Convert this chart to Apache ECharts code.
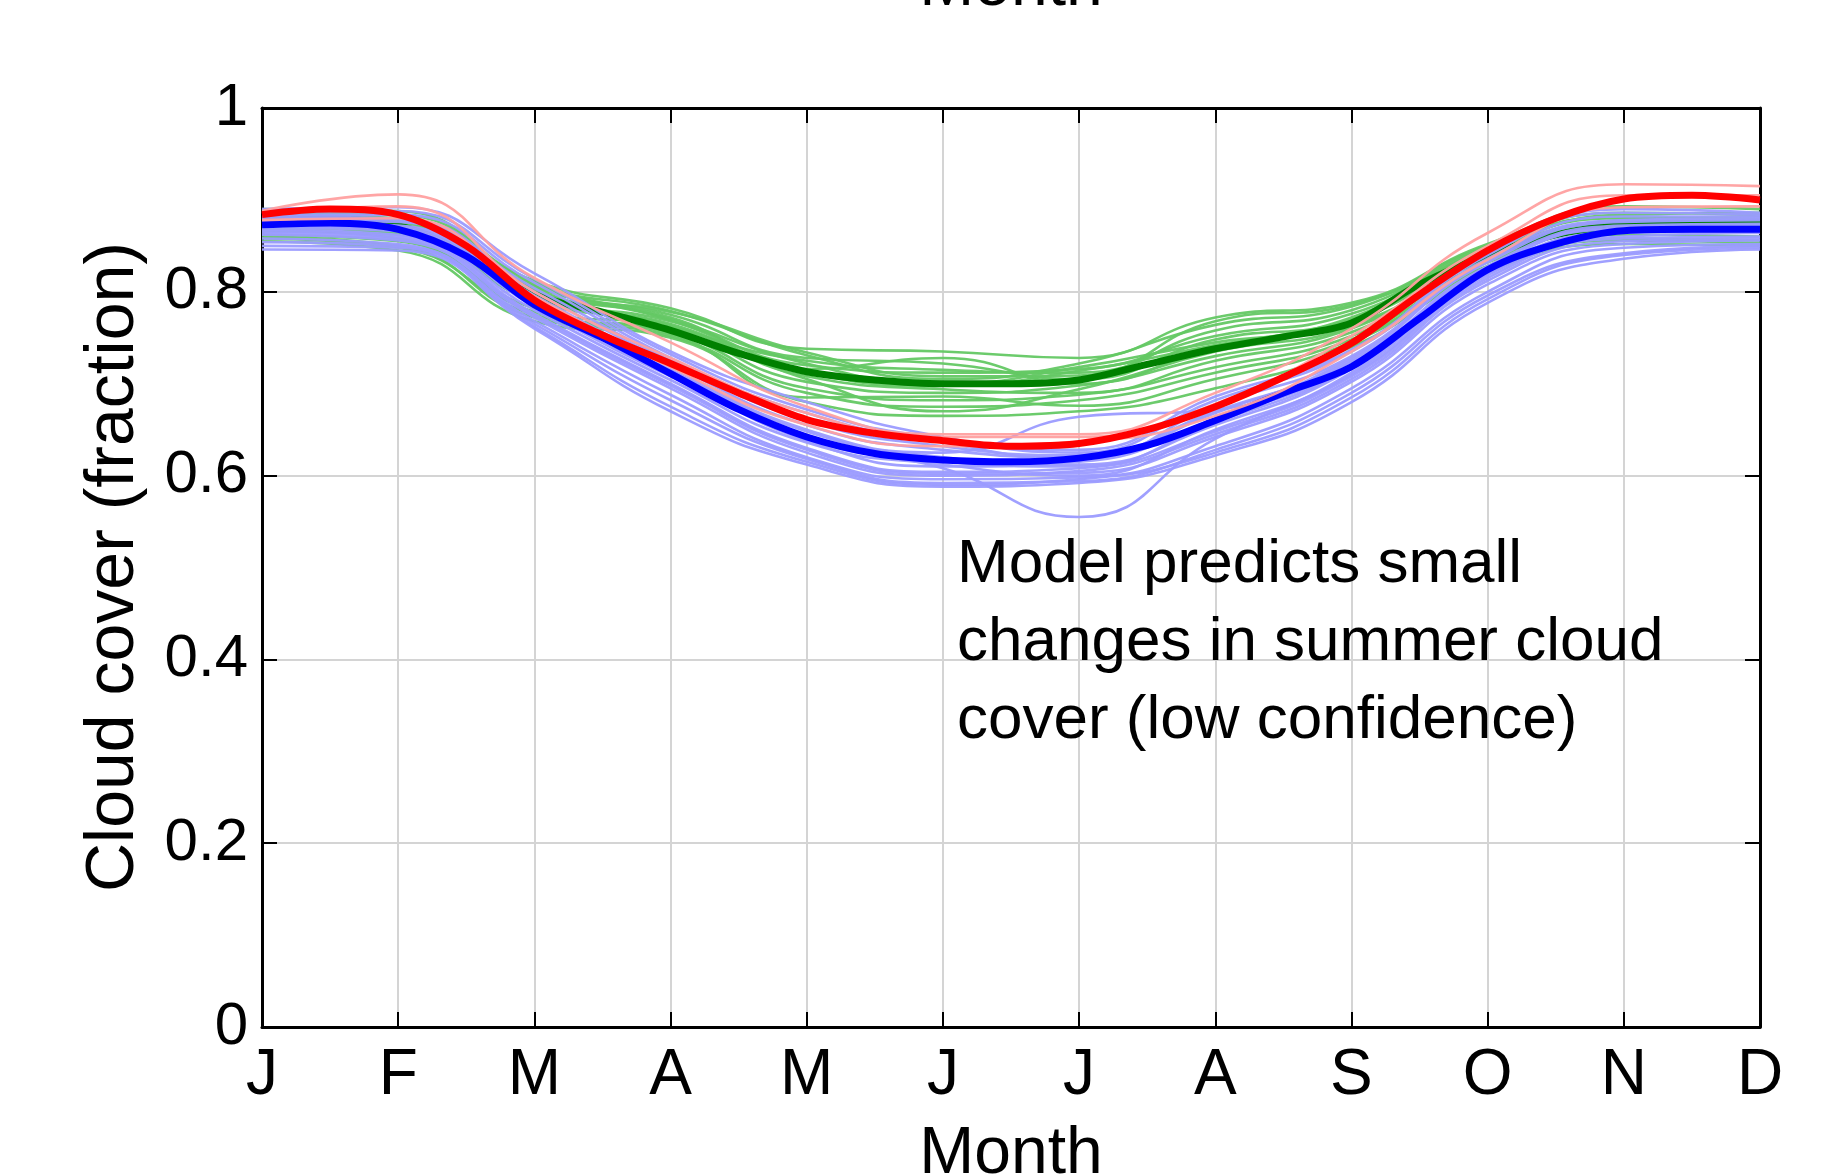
<!DOCTYPE html>
<html>
<head>
<meta charset="utf-8">
<script src="https://cdn.jsdelivr.net/npm/echarts@6/dist/echarts.min.js"></script>
<style>
html,body{margin:0;padding:0;background:#fff;}
#chart{width:1841px;height:1174px;}
</style>
</head>
<body>
<div id="chart"></div>
<script>
// ---- Data ----
const monthLabels = ['J','F','M','A','M','J','J','A','S','O','N','D'];
const monthPos = [0,1,2,3,4,5,6,7,8,9,10,11];
const halfMonthPos = [0,0.5,1,1.5,2,2.5,3,3.5,4,4.5,5,5.5,6,6.5,7,7.5,8,8.5,9,9.5,10,10.5,11];
const yTicks = [0,0.2,0.4,0.6,0.8,1];

// thick (mean) lines, at half-month positions
const greenMean = [0.877,0.879,0.872,0.843,0.797,0.778,0.758,0.733,0.713,0.704,0.700,0.700,0.704,0.721,0.738,0.751,0.766,0.808,0.840,0.862,0.873,0.8745,0.8745];
const blueMean  = [0.873,0.875,0.868,0.839,0.786,0.750,0.711,0.672,0.642,0.624,0.617,0.615,0.619,0.633,0.660,0.690,0.7185,0.771,0.824,0.852,0.8665,0.868,0.868];
const redMean   = [0.884,0.890,0.884,0.850,0.791,0.753,0.722,0.690,0.661,0.646,0.638,0.632,0.635,0.650,0.675,0.707,0.744,0.797,0.845,0.880,0.901,0.905,0.900];

// thin ensemble members, at monthly positions
const greenRuns = [
  [0.890,0.888,0.812,0.782,0.738,0.735,0.728,0.772,0.788,0.852,0.893,0.890],
  [0.872,0.866,0.795,0.768,0.720,0.712,0.716,0.752,0.776,0.846,0.880,0.878],
  [0.860,0.850,0.772,0.752,0.690,0.675,0.682,0.712,0.748,0.826,0.858,0.856],
  [0.880,0.876,0.805,0.775,0.728,0.722,0.705,0.748,0.770,0.842,0.876,0.879],
  [0.868,0.858,0.782,0.760,0.702,0.690,0.698,0.730,0.760,0.835,0.866,0.866],
  [0.884,0.880,0.808,0.779,0.731,0.705,0.722,0.764,0.784,0.850,0.886,0.884],
  [0.855,0.845,0.768,0.750,0.680,0.665,0.670,0.695,0.740,0.822,0.852,0.850],
  [0.876,0.870,0.800,0.772,0.716,0.728,0.700,0.740,0.772,0.844,0.874,0.872],
  [0.866,0.862,0.790,0.765,0.708,0.694,0.690,0.725,0.756,0.832,0.869,0.870],
  [0.878,0.874,0.803,0.762,0.725,0.715,0.712,0.758,0.780,0.848,0.882,0.876],
  [0.862,0.855,0.778,0.756,0.695,0.682,0.688,0.718,0.752,0.828,0.862,0.860],
  [0.886,0.884,0.810,0.770,0.722,0.700,0.718,0.745,0.765,0.838,0.878,0.882],
  [0.870,0.864,0.792,0.763,0.705,0.670,0.694,0.735,0.762,0.836,0.871,0.868],
  [0.874,0.868,0.797,0.778,0.734,0.708,0.709,0.768,0.786,0.845,0.884,0.886],
  [0.858,0.848,0.775,0.754,0.685,0.686,0.676,0.705,0.745,0.824,0.856,0.853],
  [0.882,0.878,0.806,0.769,0.712,0.698,0.714,0.742,0.768,0.840,0.872,0.874]
];
const blueRuns = [
  [0.890,0.892,0.820,0.735,0.680,0.642,0.625,0.682,0.735,0.840,0.890,0.886],
  [0.880,0.878,0.800,0.722,0.655,0.628,0.620,0.668,0.728,0.832,0.876,0.878],
  [0.862,0.856,0.772,0.695,0.625,0.600,0.605,0.645,0.705,0.812,0.855,0.858],
  [0.876,0.872,0.792,0.715,0.648,0.620,0.612,0.655,0.716,0.822,0.866,0.870],
  [0.850,0.848,0.762,0.675,0.615,0.590,0.596,0.625,0.685,0.792,0.840,0.848],
  [0.884,0.884,0.810,0.728,0.668,0.636,0.618,0.676,0.730,0.836,0.882,0.882],
  [0.868,0.862,0.780,0.704,0.636,0.612,0.600,0.650,0.710,0.818,0.860,0.864],
  [0.872,0.868,0.788,0.710,0.640,0.608,0.555,0.640,0.712,0.820,0.864,0.866],
  [0.858,0.852,0.768,0.688,0.620,0.596,0.598,0.632,0.695,0.800,0.848,0.852],
  [0.878,0.876,0.796,0.718,0.650,0.625,0.664,0.672,0.724,0.828,0.872,0.874],
  [0.866,0.860,0.776,0.700,0.630,0.604,0.608,0.648,0.708,0.815,0.858,0.860],
  [0.886,0.888,0.814,0.732,0.672,0.640,0.628,0.686,0.737,0.842,0.886,0.884],
  [0.854,0.850,0.765,0.682,0.618,0.592,0.594,0.628,0.690,0.796,0.842,0.850],
  [0.870,0.866,0.784,0.708,0.644,0.615,0.610,0.658,0.718,0.825,0.868,0.868],
  [0.874,0.870,0.790,0.712,0.638,0.610,0.615,0.662,0.720,0.826,0.870,0.872],
  [0.846,0.845,0.760,0.670,0.612,0.588,0.592,0.622,0.680,0.788,0.836,0.846],
  [0.882,0.880,0.804,0.725,0.660,0.632,0.622,0.670,0.726,0.834,0.878,0.880],
  [0.864,0.858,0.774,0.698,0.628,0.602,0.603,0.642,0.702,0.808,0.852,0.856]
];
const redRuns = [
  [0.888,0.906,0.815,0.745,0.675,0.645,0.645,0.690,0.760,0.864,0.917,0.915],
  [0.878,0.880,0.795,0.718,0.655,0.632,0.637,0.665,0.735,0.835,0.892,0.893],
  [0.885,0.893,0.800,0.728,0.668,0.642,0.642,0.678,0.752,0.850,0.905,0.905]
];

const annotationLines = ['Model predicts small','changes in summer cloud','cover (low confidence)'];
const yTitle = 'Cloud cover (fraction)';
const xTitle = 'Month';

// ---- Chart ----
const FONT = '"Liberation Sans", Arial, sans-serif';
const chart = echarts.init(document.getElementById('chart'), null, {renderer:'canvas'});

function pairs(xs, ys){ return ys.map((v,i)=>[xs[i], v]); }

const series = [];
function thin(runs, color, z){
  runs.forEach(r=>{
    series.push({type:'line', data:pairs(monthPos, r), smooth:0.5, symbol:'none', silent:true,
      lineStyle:{color:color, width:2.6, opacity:0.95}, z:z, animation:false});
  });
}
function thick(vals, color, z){
  series.push({type:'line', data:pairs(halfMonthPos, vals), smooth:0.35, symbol:'none', silent:true,
    lineStyle:{color:color, width:7}, z:z, animation:false});
}
thin(greenRuns, '#64c864', 2);
thick(greenMean, '#008000', 3);
thin(blueRuns, '#9b9bff', 4);
thick(blueMean, '#0000ff', 5);
thin(redRuns, '#ffa0a0', 6);
thick(redMean, '#ff0000', 7);

const tickStyle = {inside:true, length:15, lineStyle:{color:'#000', width:2}};
const lineStyleAxis = {show:true, onZero:false, lineStyle:{color:'#000', width:3}};

const option = {
  animation:false,
  backgroundColor:'#fff',
  grid:{left:262, right:81, top:108, bottom:147, containLabel:false},
  xAxis:[
    {type:'value', min:0, max:11, interval:1, position:'bottom',
     axisLine:lineStyleAxis, axisTick:tickStyle,
     axisLabel:{margin:17, fontSize:64, fontFamily:FONT, color:'#000', formatter:v=>monthLabels[v]},
     splitLine:{show:true, lineStyle:{color:'#d4d4d4', width:2}}},
    {type:'value', min:0, max:11, interval:1, position:'top',
     axisLine:lineStyleAxis, axisTick:tickStyle, axisLabel:{show:false}, splitLine:{show:false}}
  ],
  yAxis:[
    {type:'value', min:0, max:1, interval:0.2, position:'left',
     axisLine:lineStyleAxis, axisTick:tickStyle,
     axisLabel:{margin:14, fontSize:60, fontFamily:FONT, color:'#000',
       formatter:v=>{ const t = yTicks.find(k=>Math.abs(k-v)<1e-9); return String(t!==undefined?t:v); }},
     splitLine:{show:true, lineStyle:{color:'#d4d4d4', width:2}}},
    {type:'value', min:0, max:1, interval:0.2, position:'right',
     axisLine:lineStyleAxis, axisTick:tickStyle, axisLabel:{show:false}, splitLine:{show:false}}
  ],
  series:series,
  graphic:[
    {type:'text', x:114, y:567, rotation:Math.PI/2, silent:true,
     style:{text:yTitle, font:'68px '+FONT, fill:'#000', align:'center', verticalAlign:'middle'}},
    {type:'text', x:1011, y:1155, silent:true,
     style:{text:xTitle, font:'66px '+FONT, fill:'#000', align:'center', verticalAlign:'middle'}},
    {type:'text', x:1011, y:-13, silent:true,
     style:{text:xTitle, font:'66px '+FONT, fill:'#000', align:'center', verticalAlign:'middle'}},
    {type:'text', x:957, y:526, silent:true, z:20,
     style:{text:annotationLines.join('\n'), font:'62px '+FONT, lineHeight:78, fill:'#000', align:'left', verticalAlign:'top'}}
  ]
};
chart.setOption(option);
</script>
</body>
</html>
